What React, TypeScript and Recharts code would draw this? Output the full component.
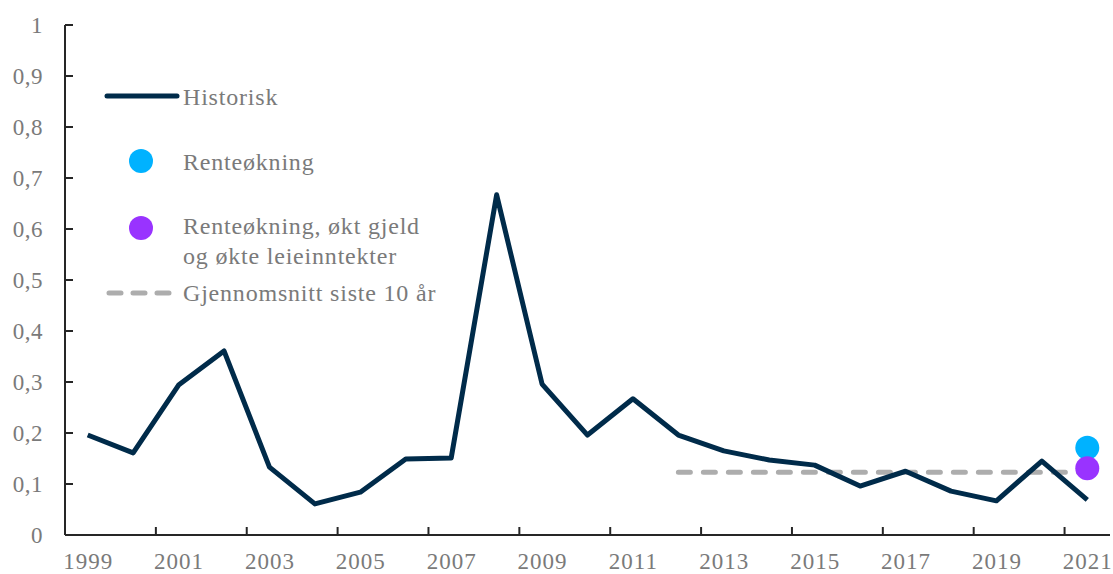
import { LineChart, Line, XAxis, YAxis, Legend } from "recharts";

// Årlig andel (0–1), lest av figuren
const years = [
  "1999", "2000", "2001", "2002", "2003", "2004", "2005", "2006", "2007", "2008", "2009", "2010",
  "2011", "2012", "2013", "2014", "2015", "2016", "2017", "2018", "2019", "2020", "2021",
];
const historisk = [
  0.196, 0.161, 0.294, 0.361, 0.133, 0.061, 0.084, 0.149, 0.151, 0.667, 0.296, 0.196,
  0.267, 0.196, 0.165, 0.147, 0.137, 0.096, 0.125, 0.086, 0.067, 0.145, 0.069,
];
const snitt10 = [
  null, null, null, null, null, null, null, null, null, null, null, null,
  null, 0.123, 0.123, 0.123, 0.123, 0.123, 0.123, 0.123, 0.123, 0.123, 0.123,
];
const renteokning = [
  null, null, null, null, null, null, null, null, null, null, null, null,
  null, null, null, null, null, null, null, null, null, null, 0.171,
];
const renteGjeld = [
  null, null, null, null, null, null, null, null, null, null, null, null,
  null, null, null, null, null, null, null, null, null, null, 0.131,
];
const yTicks = [0, 0.1, 0.2, 0.3, 0.4, 0.5, 0.6, 0.7, 0.8, 0.9, 1];

const data = years.map((year, i) => ({
  year,
  historisk: historisk[i],
  snitt: snitt10[i],
  rente: renteokning[i],
  renteGjeld: renteGjeld[i],
}));

const FONT = "'Liberation Serif', 'Times New Roman', serif";
const TEXT = "#7a7a7a";
const AXIS = "#262626";
const NAVY = "#002b4a";
const BLUE = "#00b2ff";
const PURPLE = "#9933ff";
const GREY = "#adadad";
const HALF_BAND = 1045 / 23 / 2;

function XTick(props: any) {
  const { x, y, payload } = props;
  return (
    <g>
      <line x1={x - HALF_BAND} x2={x - HALF_BAND} y1={y} y2={y - 8} stroke={AXIS} strokeWidth={2} />
      <text x={x + 0.5} y={y + 34} textAnchor="middle" fill={TEXT} fontSize={23} letterSpacing={1} fontFamily={FONT}>
        {payload.value}
      </text>
    </g>
  );
}

function YTick(props: any) {
  const { x, y, payload } = props;
  return (
    <g>
      <line x1={x} x2={x + 8} y1={y} y2={y} stroke={AXIS} strokeWidth={2} />
      <text x={x - 22} y={y} dy="0.34em" textAnchor="end" fill={TEXT} fontSize={23} letterSpacing={0.5} fontFamily={FONT}>
        {String(payload.value).replace(".", ",")}
      </text>
    </g>
  );
}

function LegendBox() {
  const t = { fill: TEXT, fontSize: 24, fontFamily: FONT, letterSpacing: 0.8 };
  return (
    <svg width={380} height={240}>
      <line x1={7} x2={77} y1={26} y2={26} stroke={NAVY} strokeWidth={5} strokeLinecap="round" />
      <text x={83} y={27} dy="0.34em" {...t}>Historisk</text>
      <circle cx={41} cy={91} r={12} fill={BLUE} />
      <text x={83} y={92} dy="0.34em" {...t}>Renteøkning</text>
      <circle cx={41} cy={158} r={12} fill={PURPLE} />
      <text x={83} y={156} dy="0.34em" {...t}>Renteøkning, økt gjeld</text>
      <text x={83} y={186} dy="0.34em" {...t}>og økte leieinntekter</text>
      <line x1={9} x2={72} y1={223} y2={223} stroke={GREY} strokeWidth={5} strokeLinecap="round" strokeDasharray="12 12" />
      <text x={83} y={223} dy="0.34em" {...t}>Gjennomsnitt siste 10 år</text>
    </svg>
  );
}

export default function App() {
  return (
    <div style={{ position: "absolute", left: 0, top: 0 }}>
      <LineChart width={1113} height={574} data={data} margin={{ top: 25, right: 3, left: 0, bottom: 0 }}>
        <XAxis
          dataKey="year"
          interval={1}
          height={39}
          padding={{ left: HALF_BAND, right: HALF_BAND }}
          tickLine={false}
          tickSize={0}
          tickMargin={0}
          axisLine={{ stroke: AXIS, strokeWidth: 2 }}
          tick={(p: any) => <XTick {...p} />}
        />
        <YAxis
          domain={[0, 1]}
          ticks={yTicks}
          width={65}
          tickLine={false}
          tickSize={0}
          tickMargin={0}
          axisLine={{ stroke: AXIS, strokeWidth: 2 }}
          tick={(p: any) => <YTick {...p} />}
        />
        <Legend
          layout="horizontal"
          verticalAlign="middle"
          align="center"
          content={() => <LegendBox />}
          wrapperStyle={{ left: 100, top: 70, width: 380, height: 240 }}
        />
        <Line
          dataKey="snitt"
          stroke={GREY}
          strokeWidth={5}
          strokeDasharray="12 13"
          strokeLinecap="round"
          dot={false}
          isAnimationActive={false}
        />
        <Line
          dataKey="historisk"
          stroke={NAVY}
          strokeWidth={5}
          strokeLinejoin="round"
          dot={false}
          isAnimationActive={false}
        />
        <Line
          dataKey="rente"
          stroke="none"
          dot={{ r: 12, fill: BLUE, stroke: "none" }}
          isAnimationActive={false}
        />
        <Line
          dataKey="renteGjeld"
          stroke="none"
          dot={{ r: 12, fill: PURPLE, stroke: "none" }}
          isAnimationActive={false}
        />
      </LineChart>
    </div>
  );
}
